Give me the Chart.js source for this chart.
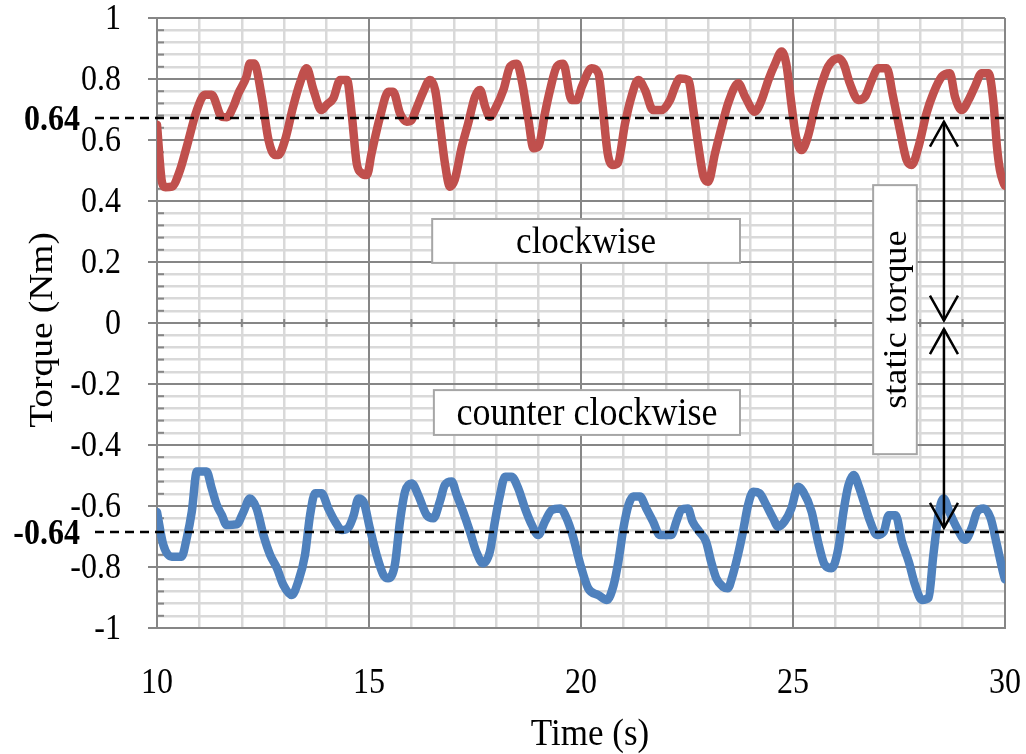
<!DOCTYPE html>
<html>
<head>
<meta charset="utf-8">
<script src="https://cdn.jsdelivr.net/npm/chart.js@4/dist/chart.umd.min.js"></script>
<style>
  html, body { margin: 0; padding: 0; background: #fff; }
  #chart { display: block; }
</style>
</head>
<body>
<canvas id="chart" width="1026" height="754"></canvas>
<script>
// clockwise torque (red)
const cwTime = [
  10.0, 10.12, 10.2, 10.35, 10.54, 10.7, 10.94, 11.13, 11.29, 11.53,
  11.65, 11.8, 11.92, 12.11, 12.19, 12.29, 12.47, 12.63, 12.78, 12.86,
  13.02, 13.21, 13.37, 13.53, 13.69, 13.88, 14.0, 14.16, 14.32, 14.48,
  14.59, 14.71, 14.83, 14.95, 15.06, 15.26, 15.46, 15.57, 15.73, 15.89,
  16.0, 16.12, 16.28, 16.44, 16.56, 16.67, 16.79, 16.91, 17.02, 17.19,
  17.34, 17.5, 17.62, 17.74, 17.85, 18.0, 18.17, 18.33, 18.49, 18.6,
  18.76, 18.88, 19.0, 19.15, 19.27, 19.43, 19.58, 19.78, 19.9, 20.02,
  20.25, 20.41, 20.51, 20.63, 20.75, 20.87, 21.04, 21.19, 21.35, 21.51,
  21.7, 21.9, 22.1, 22.22, 22.33, 22.53, 22.65, 22.77, 22.89, 23.0,
  23.16, 23.32, 23.47, 23.71, 23.87, 24.1, 24.26, 24.42, 24.58, 24.73,
  24.84, 24.96, 25.07, 25.2, 25.35, 25.52, 25.68, 25.83, 26.07, 26.19,
  26.34, 26.54, 26.7, 26.86, 27.01, 27.21, 27.36, 27.52, 27.68, 27.8,
  27.96, 28.15, 28.31, 28.51, 28.7, 28.82, 28.98, 29.14, 29.29, 29.45,
  29.61, 29.73, 29.81, 29.88, 29.97, 30.0
];
const cwTorque = [
  0.65, 0.46, 0.445, 0.447, 0.50, 0.577, 0.698, 0.748, 0.748, 0.676,
  0.675, 0.709, 0.753, 0.808, 0.851, 0.851, 0.742, 0.60, 0.551, 0.551,
  0.60, 0.709, 0.786, 0.835, 0.764, 0.698, 0.715, 0.737, 0.797, 0.797,
  0.688, 0.524, 0.491, 0.485, 0.556, 0.676, 0.758, 0.758, 0.688, 0.66,
  0.665, 0.704, 0.758, 0.797, 0.764, 0.655, 0.524, 0.447, 0.469, 0.578,
  0.655, 0.742, 0.764, 0.709, 0.676, 0.709, 0.764, 0.841, 0.85, 0.797,
  0.666, 0.573, 0.58, 0.688, 0.764, 0.841, 0.85, 0.731, 0.731, 0.775,
  0.835, 0.819, 0.709, 0.556, 0.518, 0.525, 0.655, 0.742, 0.797, 0.764,
  0.698, 0.698, 0.731, 0.775, 0.802, 0.797, 0.698, 0.578, 0.48, 0.463,
  0.556, 0.644, 0.72, 0.786, 0.742, 0.693, 0.731, 0.797, 0.851, 0.89,
  0.851, 0.72, 0.611, 0.567, 0.611, 0.709, 0.786, 0.841, 0.868, 0.851,
  0.786, 0.731, 0.742, 0.797, 0.835, 0.835, 0.742, 0.633, 0.534, 0.518,
  0.578, 0.688, 0.753, 0.808, 0.819, 0.742, 0.698, 0.731, 0.775, 0.819,
  0.819, 0.72, 0.578, 0.502, 0.458, 0.45
];

// counter clockwise torque (blue)
const ccwTime = [
  10.0, 10.15, 10.35, 10.58, 10.7, 10.82, 10.94, 11.17, 11.29, 11.41,
  11.53, 11.64, 11.88, 12.04, 12.19, 12.35, 12.51, 12.67, 12.83, 12.98,
  13.18, 13.33, 13.49, 13.61, 13.73, 13.88, 14.04, 14.2, 14.36, 14.52,
  14.64, 14.75, 14.87, 15.02, 15.18, 15.34, 15.45, 15.61, 15.73, 15.85,
  16.01, 16.16, 16.36, 16.52, 16.67, 16.79, 16.95, 17.07, 17.22, 17.38,
  17.53, 17.69, 17.85, 17.97, 18.09, 18.21, 18.36, 18.52, 18.68, 18.84,
  18.99, 19.15, 19.31, 19.51, 19.66, 19.81, 19.98, 20.17, 20.41, 20.61,
  20.77, 20.88, 21.0, 21.12, 21.23, 21.39, 21.54, 21.7, 21.86, 22.13,
  22.25, 22.36, 22.52, 22.63, 22.79, 22.95, 23.07, 23.19, 23.35, 23.46,
  23.58, 23.7, 23.82, 23.94, 24.06, 24.21, 24.37, 24.53, 24.65, 24.8,
  24.96, 25.12, 25.24, 25.44, 25.59, 25.75, 25.91, 26.07, 26.19, 26.31,
  26.43, 26.54, 26.67, 26.82, 26.98, 27.14, 27.26, 27.42, 27.57, 27.73,
  27.88, 28.04, 28.2, 28.31, 28.43, 28.55, 28.7, 28.87, 29.06, 29.22,
  29.34, 29.5, 29.66, 29.81, 29.97, 30.0
];
const ccwTorque = [
  -0.62, -0.728, -0.766, -0.766, -0.706, -0.619, -0.487, -0.487, -0.542, -0.597,
  -0.63, -0.662, -0.66, -0.619, -0.575, -0.608, -0.695, -0.761, -0.804, -0.859,
  -0.892, -0.848, -0.761, -0.63, -0.558, -0.558, -0.608, -0.651, -0.679, -0.67,
  -0.63, -0.575, -0.586, -0.673, -0.761, -0.826, -0.837, -0.793, -0.651, -0.553,
  -0.526, -0.564, -0.63, -0.64, -0.586, -0.531, -0.52, -0.564, -0.619, -0.684,
  -0.75, -0.788, -0.75, -0.651, -0.564, -0.504, -0.504, -0.542, -0.608, -0.662,
  -0.695, -0.651, -0.613, -0.608, -0.64, -0.7, -0.79, -0.87, -0.892, -0.908,
  -0.859, -0.783, -0.673, -0.597, -0.569, -0.569, -0.608, -0.651, -0.695, -0.695,
  -0.651, -0.613, -0.608, -0.651, -0.684, -0.717, -0.783, -0.837, -0.865, -0.87,
  -0.826, -0.761, -0.684, -0.597, -0.553, -0.558, -0.597, -0.64, -0.668, -0.651,
  -0.608, -0.537, -0.553, -0.619, -0.717, -0.793, -0.804, -0.739, -0.619, -0.531,
  -0.498, -0.531, -0.586, -0.651, -0.695, -0.684, -0.63, -0.63, -0.717, -0.783,
  -0.859, -0.908, -0.9, -0.761, -0.63, -0.575, -0.624, -0.673, -0.711, -0.67,
  -0.619, -0.608, -0.64, -0.728, -0.826, -0.84
];

// axis tick labels
const xTickLabels = [10, 15, 20, 25, 30];
const yTickLabels = [1, 0.8, 0.6, 0.4, 0.2, 0, -0.2, -0.4, -0.6, -0.8, -1];

// static torque reference levels (dashed) and their labels
const staticLevels = [0.672, -0.685];
const staticLabels = ['0.64', '-0.64'];

// double arrows: time position, and [from, to] torque spans
const arrowTime = 28.56;
const arrowSpans = [[0.66, 0.008], [-0.02, -0.672]];

const FONT = '"Liberation Serif", "Times New Roman", serif';
const MAJOR = '#868686';
const MINOR = '#d9d9d9';
const STRETCH = 1.1; // the source picture is a little taller than wide

function isMultiple(v, step) {
  const r = v / step;
  return Math.abs(r - Math.round(r)) < 1e-6;
}

function line(ctx, x1, y1, x2, y2) {
  ctx.beginPath();
  ctx.moveTo(x1, y1);
  ctx.lineTo(x2, y2);
  ctx.stroke();
}

// text drawn with the source's vertical stretch
function label(ctx, text, x, y, font, align, vertical) {
  ctx.save();
  ctx.font = font;
  ctx.textAlign = align;
  ctx.textBaseline = 'middle';
  ctx.fillStyle = '#000';
  ctx.translate(x, y);
  if (vertical) {
    ctx.rotate(-Math.PI / 2);
    ctx.scale(STRETCH, 1);
  } else {
    ctx.scale(1, STRETCH);
  }
  ctx.fillText(text, 0, 0);
  ctx.restore();
}

const boxes = [
  { text: 'clockwise', size: 35, x0: 16.49, x1: 23.75, y0: 0.341, y1: 0.197 },
  { text: 'counter clockwise', size: 36, x0: 16.53, x1: 23.75, y0: -0.22, y1: -0.367 },
  { text: 'static torque', size: 33, x0: 26.89, x1: 27.92, y0: 0.452, y1: -0.43, vertical: true }
];

function textBox(ctx, scales, box) {
  const x1 = scales.x.getPixelForValue(box.x0), x2 = scales.x.getPixelForValue(box.x1);
  const y1 = scales.y.getPixelForValue(box.y0), y2 = scales.y.getPixelForValue(box.y1);
  ctx.fillStyle = '#fff';
  ctx.fillRect(x1, y1, x2 - x1, y2 - y1);
  ctx.strokeStyle = '#a6a6a6';
  ctx.lineWidth = 2;
  ctx.strokeRect(x1, y1, x2 - x1, y2 - y1);
  const cx = (x1 + x2) / 2, cy = (y1 + y2) / 2;
  if (box.vertical) label(ctx, box.text, cx + 2, cy, box.size + 'px ' + FONT, 'center', true);
  else label(ctx, box.text, cx, cy + 2, box.size + 'px ' + FONT, 'center', false);
}

const decor = {
  id: 'decor',
  beforeDatasetsDraw(chart) {
    const { ctx, chartArea: a, scales: { x, y } } = chart;
    ctx.save();
    ctx.strokeStyle = MAJOR;
    ctx.lineWidth = 2;
    // major vertical lines on top of the light horizontal ones
    x.ticks.forEach(t => {
      if (isMultiple(t.value, 5)) {
        const px = x.getPixelForValue(t.value);
        line(ctx, px, a.top, px, a.bottom);
      }
    });
    // y ticks: major outside, minor inside
    y.ticks.forEach(t => {
      const py = y.getPixelForValue(t.value);
      if (isMultiple(t.value, 0.2)) line(ctx, a.left - 9, py, a.left, py);
      else line(ctx, a.left, py, a.left + 7, py);
    });
    // minor cross ticks on the zero line
    const y0 = y.getPixelForValue(0);
    x.ticks.forEach(t => {
      const px = x.getPixelForValue(t.value);
      line(ctx, px, y0 - 4, px, y0 + 4);
    });
    ctx.restore();
  },
  afterDatasetsDraw(chart) {
    const { ctx, chartArea: a, scales } = chart;
    const { x, y } = scales;
    ctx.save();
    // dashed static torque levels
    ctx.strokeStyle = '#000';
    ctx.lineWidth = 2.5;
    ctx.setLineDash([9, 6]);
    staticLevels.forEach(v => {
      const py = y.getPixelForValue(v);
      line(ctx, a.left - 62, py, a.right + 2, py);
    });
    ctx.setLineDash([]);
    // text boxes
    boxes.forEach(b => textBox(ctx, scales, b));
    // double arrows
    ctx.strokeStyle = '#000';
    ctx.lineWidth = 2.5;
    const ax = x.getPixelForValue(arrowTime);
    arrowSpans.forEach(([v0, v1]) => {
      const p0 = y.getPixelForValue(v0), p1 = y.getPixelForValue(v1);
      line(ctx, ax, p0, ax, p1);
      [[p0, 1], [p1, -1]].forEach(([p, dir]) => {
        ctx.beginPath();
        ctx.moveTo(ax - 14, p + dir * 25);
        ctx.lineTo(ax, p);
        ctx.lineTo(ax + 14, p + dir * 25);
        ctx.stroke();
      });
    });
    ctx.restore();
  },
  afterDraw(chart) {
    const { ctx, chartArea: a, scales: { x, y } } = chart;
    const tickFont = '32px ' + FONT;
    yTickLabels.forEach(v => label(ctx, String(v), a.left - 36, y.getPixelForValue(v) + 2, tickFont, 'right'));
    xTickLabels.forEach(v => label(ctx, String(v), x.getPixelForValue(v), a.bottom + 56, tickFont, 'center'));
    staticLevels.forEach((v, i) =>
      label(ctx, staticLabels[i], a.left - 77, y.getPixelForValue(v) + 3, 'bold 32px ' + FONT, 'right'));
    label(ctx, 'Time (s)', (a.left + a.right) / 2 + 9, a.bottom + 107, '35px ' + FONT, 'center');
    label(ctx, 'Torque (Nm)', a.left - 114, (a.top + a.bottom) / 2 + 7, '34px ' + FONT, 'center', true);
  }
};

const toPoints = (xs, ys) => xs.map((t, i) => ({ x: t, y: ys[i] }));

new Chart(document.getElementById('chart'), {
  type: 'line',
  data: {
    datasets: [
      {
        label: 'clockwise',
        data: toPoints(cwTime, cwTorque),
        borderColor: '#c0504d',
        borderWidth: 8.5,
        pointRadius: 0,
        cubicInterpolationMode: 'monotone',
        borderJoinStyle: 'round',
        borderCapStyle: 'round'
      },
      {
        label: 'counter clockwise',
        data: toPoints(ccwTime, ccwTorque),
        borderColor: '#4f81bd',
        borderWidth: 8.5,
        pointRadius: 0,
        cubicInterpolationMode: 'monotone',
        borderJoinStyle: 'round',
        borderCapStyle: 'round'
      }
    ]
  },
  options: {
    responsive: false,
    animation: false,
    devicePixelRatio: 1,
    layout: { padding: { top: 18, right: 21, left: 0, bottom: 0 } },
    plugins: { legend: { display: false }, tooltip: { enabled: false } },
    scales: {
      x: {
        type: 'linear',
        min: 10,
        max: 30,
        ticks: { display: false, stepSize: 1, autoSkip: false },
        grid: {
          drawTicks: false,
          color: c => isMultiple(c.tick.value, 5) ? MAJOR : MINOR,
          lineWidth: c => isMultiple(c.tick.value, 5) ? 2 : 2.5
        },
        border: { color: MAJOR, width: 2 },
        afterFit: s => { s.height = 126; }
      },
      y: {
        type: 'linear',
        min: -1,
        max: 1,
        ticks: { display: false, stepSize: 0.04, autoSkip: false },
        grid: {
          drawTicks: false,
          color: c => isMultiple(c.tick.value, 0.2) ? MAJOR : MINOR,
          lineWidth: c => isMultiple(c.tick.value, 0.2) ? 2 : 2.5
        },
        border: { color: MAJOR, width: 2 },
        afterFit: s => { s.width = 157; }
      }
    }
  },
  plugins: [decor]
});
</script>
</body>
</html>
